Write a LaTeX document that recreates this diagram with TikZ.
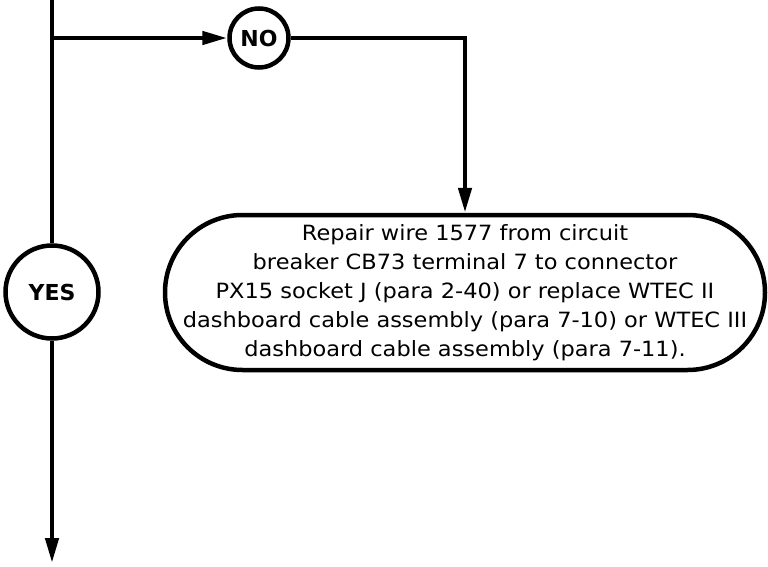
\documentclass[tikz,border=0pt]{standalone}
\usepackage{fontspec}
\setmainfont{DejaVu Sans}
\newfontfamily\boxfont[FakeStretch=1.07]{DejaVu Sans}
\usetikzlibrary{arrows.meta}
\begin{document}
\begin{tikzpicture}[x=1pt,y=-1pt,line width=4.5pt,
  arr/.style={-{Triangle[length=25pt,width=13pt]}},
  circ/.style={circle,draw,line width=4.5pt,inner sep=0pt,minimum size=59pt,font=\fontsize{22}{24}\selectfont\bfseries},
  actbox/.style={rectangle,draw,line width=4.5pt,inner sep=0pt,minimum width=600pt,minimum height=155pt,rounded corners=77.5pt,align=center,font=\boxfont\fontsize{21}{29}\selectfont}]
\useasboundingbox (0,0) rectangle (768,567);
\coordinate (top) at (52,0);
\coordinate (j) at (52,38);
\node[circ] (no) at (259,38) {NO};
\node[circ,minimum size=93pt] (yes) at (52,292) {YES};
\coordinate (nc) at (465,38);
\node[actbox] (act) at (465,292.5) {Repair wire 1577 from circuit\\breaker CB73 terminal 7 to connector\\PX15 socket J (para 2-40) or replace WTEC II\\dashboard cable assembly (para 7-10) or WTEC III\\dashboard cable assembly (para 7-11).};
\coordinate (end) at (52,563);
\draw (top) -- (yes);
\draw[arr] (j) -- (no);
\draw[arr] (no) -- (nc) -- (act);
\draw[arr] (yes) -- (end);
\end{tikzpicture}
\end{document}
